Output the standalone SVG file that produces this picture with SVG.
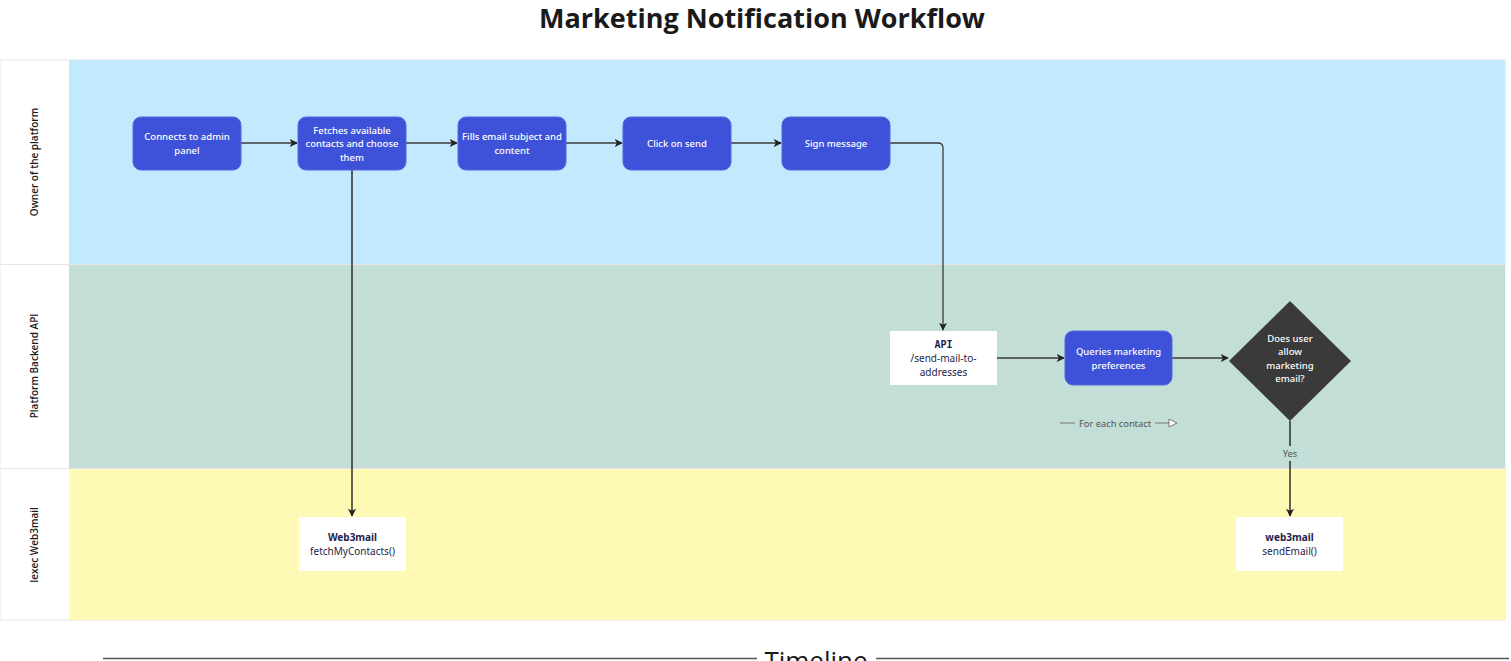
<svg xmlns="http://www.w3.org/2000/svg" width="1511" height="661" viewBox="0 0 1511 661">
<defs>
<style>
.title{font-family:"Open Sans","Noto Sans",sans-serif;font-weight:700;font-size:27px;fill:#1a1a1a}
.lane-label{font-family:"Open Sans","Noto Sans",sans-serif;font-weight:600;font-size:10px;fill:#1a1a1a}
.proc rect{fill:#3d52d8;stroke:#5468e0;stroke-width:1}
.proc text{font-family:"Noto Sans","Open Sans",sans-serif;font-weight:500;font-size:9.5px;fill:#ffffff}
.box rect{fill:#ffffff}
.box text{font-family:"Noto Sans","Open Sans",sans-serif;font-size:10px;fill:#1f1d4a}
.box .b{font-weight:700}
.edge{fill:none;stroke:#3a3a3a;stroke-width:1.3}
.edge2{fill:none;stroke:#111;stroke-width:1.3}
.small{font-family:"Noto Sans","Open Sans",sans-serif;font-size:9.3px;fill:#555}
</style>
<marker id="ah" viewBox="0 0 10 10" refX="9" refY="5" markerWidth="8" markerHeight="8" orient="auto" markerUnits="userSpaceOnUse">
<path d="M0,0 L10,5 L0,10 L2.5,5 Z" fill="#222"/>
</marker>
</defs>
<rect x="0" y="0" width="1511" height="661" fill="#ffffff"/>
<text class="title" x="762" y="28" text-anchor="middle">Marketing Notification Workflow</text>

<g id="lanes">
<rect x="0" y="60" width="1505" height="560" fill="#ffffff" stroke="#e6e6e6" stroke-width="1"/>
<rect x="69" y="60" width="1436" height="204" fill="#c2e9fd"/>
<rect x="69" y="265" width="1436" height="203" fill="#c3ded7"/>
<rect x="69" y="469" width="1436" height="151" fill="#fff9b6"/>
<line x1="0" y1="264.5" x2="1505" y2="264.5" stroke="#e6e6e6"/>
<line x1="0" y1="468.5" x2="1505" y2="468.5" stroke="#e6e6e6"/>
<text class="lane-label" transform="translate(38,162) rotate(-90)" text-anchor="middle">Owner of the platform</text>
<text class="lane-label" transform="translate(38,366) rotate(-90)" text-anchor="middle">Platform Backend API</text>
<text class="lane-label" transform="translate(38,545) rotate(-90)" text-anchor="middle">Iexec Web3mail</text>
</g>

<g id="connectors">
<path class="edge" d="M241,143 H297" marker-end="url(#ah)"/>
<path class="edge" d="M406,143 H457" marker-end="url(#ah)"/>
<path class="edge" d="M566,143 H622" marker-end="url(#ah)"/>
<path class="edge" d="M731,143 H781" marker-end="url(#ah)"/>
<path class="edge" d="M890,143 H938 Q943,143 943,148 V330" marker-end="url(#ah)"/>
<path class="edge2" d="M352,170 V516" marker-end="url(#ah)"/>
<path class="edge" d="M997,358 H1064" marker-end="url(#ah)"/>
<path class="edge" d="M1172,358 H1228" marker-end="url(#ah)"/>
<path class="edge2" d="M1290,421 V446 M1290,461 V516" marker-end="url(#ah)"/>
<text class="small" x="1290" y="457" text-anchor="middle" fill="#333">Yes</text>
</g>

<g id="n1" class="proc"><rect x="133" y="117" width="108" height="53" rx="8"/><text x="187" y="140" text-anchor="middle">Connects to admin</text><text x="187" y="154" text-anchor="middle">panel</text></g>
<g id="n2" class="proc"><rect x="298" y="117" width="108" height="53" rx="8"/><text x="352" y="134" text-anchor="middle">Fetches available</text><text x="352" y="147" text-anchor="middle">contacts and choose</text><text x="352" y="161" text-anchor="middle">them</text></g>
<g id="n3" class="proc"><rect x="458" y="117" width="108" height="53" rx="8"/><text x="512" y="140" text-anchor="middle">Fills email subject and</text><text x="512" y="154" text-anchor="middle">content</text></g>
<g id="n4" class="proc"><rect x="623" y="117" width="108" height="53" rx="8"/><text x="677" y="147" text-anchor="middle">Click on send</text></g>
<g id="n5" class="proc"><rect x="782" y="117" width="108" height="53" rx="8"/><text x="836" y="147" text-anchor="middle">Sign message</text></g>

<g id="api" class="box"><rect x="890" y="331" width="107" height="54"/><text class="b" x="943.5" y="348" text-anchor="middle" style="font-family:'DejaVu Sans Mono','Liberation Mono',monospace;font-size:10px">API</text><text x="943.5" y="362" text-anchor="middle">/send-mail-to-</text><text x="943.5" y="376" text-anchor="middle">addresses</text></g>
<g id="queries" class="proc"><rect x="1065" y="331" width="107" height="54" rx="8"/><text x="1118.5" y="355" text-anchor="middle">Queries marketing</text><text x="1118.5" y="369" text-anchor="middle">preferences</text></g>
<g id="decision"><path d="M1290,301 L1351,361 L1290,421 L1229,361 Z" fill="#3a3a3a"/>
<g style="font-family:'Noto Sans','Open Sans',sans-serif;font-weight:500;font-size:9.5px;fill:#fff" text-anchor="middle"><text x="1290" y="342">Does user</text><text x="1290" y="355">allow</text><text x="1290" y="369">marketing</text><text x="1290" y="382">email?</text></g></g>

<g id="foreach">
<line x1="1060" y1="423" x2="1075" y2="423" stroke="#777" stroke-width="1"/>
<text class="small" x="1079" y="426.5">For each contact</text>
<line x1="1155" y1="423" x2="1169" y2="423" stroke="#777" stroke-width="1"/>
<path d="M1169,419 L1177,423 L1169,427 Z" fill="#fff" stroke="#777" stroke-width="1"/>
</g>

<g id="web3mail-fetch" class="box"><rect x="299" y="517" width="107" height="54"/><text class="b" x="352.5" y="541" text-anchor="middle">Web3mail</text><text x="352.5" y="555" text-anchor="middle">fetchMyContacts()</text></g>
<g id="web3mail-send" class="box"><rect x="1236" y="517" width="107" height="54"/><text class="b" x="1289.5" y="541" text-anchor="middle">web3mail</text><text x="1289.5" y="555" text-anchor="middle">sendEmail()</text></g>

<g id="timeline">
<line x1="103" y1="658.5" x2="757" y2="658.5" stroke="#555" stroke-width="1.3"/>
<line x1="876" y1="658.5" x2="1509" y2="658.5" stroke="#555" stroke-width="1.3"/>
<text x="816" y="670" text-anchor="middle" style="font-family:'Open Sans','Noto Sans',sans-serif;font-size:26px;fill:#1a1a1a">Timeline</text>
</g>
</svg>
